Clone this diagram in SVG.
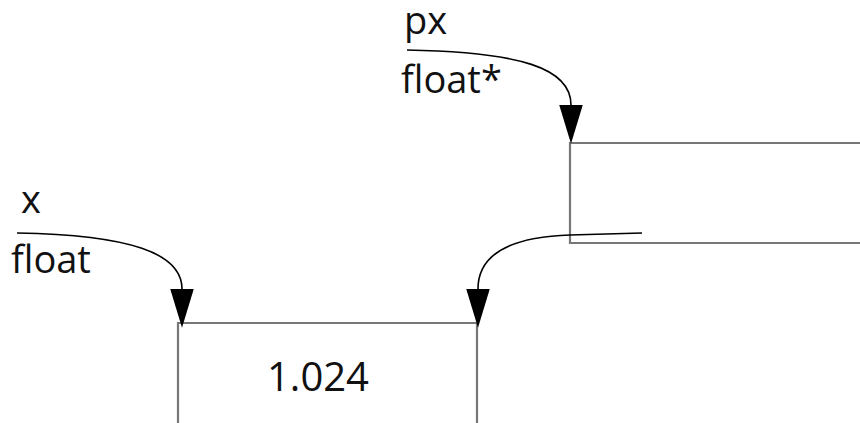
<svg xmlns="http://www.w3.org/2000/svg" width="860" height="423" viewBox="0 0 860 423">
<style>
.box{fill:#fff;stroke:#777;stroke-width:2.2}
.con{fill:none;stroke:#000;stroke-width:1.6}
.lbl{font-family:"Open Sans","Noto Sans",sans-serif;font-size:38px;fill:#111}
.val{font-family:"Open Sans","Noto Sans",sans-serif;font-size:40px;fill:#111}
</style>
<defs>
<marker id="ah" markerUnits="userSpaceOnUse" markerWidth="40" markerHeight="24" refX="0" refY="10" viewBox="0 0 34 20" orient="auto" overflow="visible">
<path d="M0,0 L33,10 L0,20 z" fill="#000"/>
</marker>
</defs>
<g id="node-px-target">
<path class="box" d="M860,143 H570 V243 H860"/>
</g>
<g id="node-x">
<path class="box" d="M178,424 V323 H477 V424"/>
<text class="val" x="318" y="391" text-anchor="middle">1.024</text>
</g>
<g id="label-px">
<text class="lbl" x="404" y="34">px</text>
<text class="lbl" x="401" y="93">float*</text>
</g>
<g id="label-x">
<text class="lbl" x="21" y="213">x</text>
<text class="lbl" x="11" y="273">float</text>
</g>
<g id="connectors">
<path class="con" marker-end="url(#ah)" d="M407,50 C520,52 571,68 571,105"/>
<path class="con" marker-end="url(#ah)" d="M17,233 C130,235 182,253 182,289"/>
<path class="con" marker-end="url(#ah)" d="M642,233 L570,235 C510,237 478,255 478,289"/>
</g>
</svg>
